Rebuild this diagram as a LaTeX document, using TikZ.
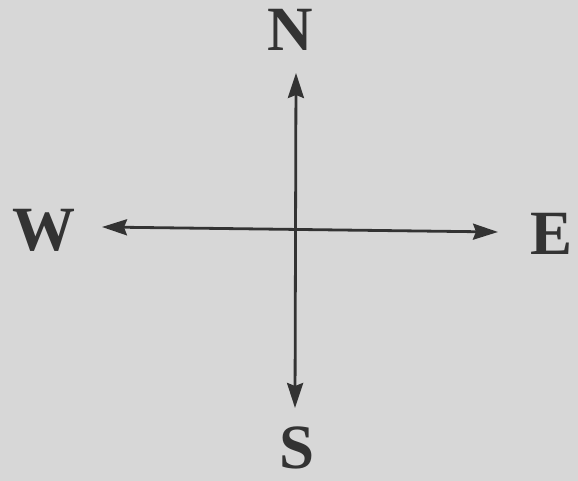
\documentclass[tikz,border=0pt]{standalone}
\usepackage{fontspec}
\setmainfont{Liberation Serif}
\usetikzlibrary{arrows.meta}
\definecolor{paper}{HTML}{D7D7D7}
\definecolor{ink}{HTML}{333333}
\tikzset{
  letter/.style={font=\bfseries\fontsize{63}{63}\selectfont, text=ink, inner sep=0pt},
  axis/.style={draw=ink, line width=2.8pt, {Stealth[length=25pt,width=16pt,inset=3pt]}-{Stealth[length=25pt,width=16pt,inset=3pt]}}
}
\begin{document}
\begin{tikzpicture}[x=1pt,y=1pt]
\fill[paper] (0,0) rectangle (578,481);
\useasboundingbox (0,0) rectangle (578,481);
\node[letter] (N) at (290,451) {N};
\node[letter] (W) at (44,251) {W};
\node[letter] (E) at (552,247) {E};
\node[letter] (S) at (297,33) {S};
\coordinate (top) at (296,408);
\coordinate (bot) at (295,73);
\coordinate (left) at (102,254);
\coordinate (right) at (498,249);
\draw[axis] (top) -- (bot);
\draw[axis] (left) -- (right);
\end{tikzpicture}
\end{document}
